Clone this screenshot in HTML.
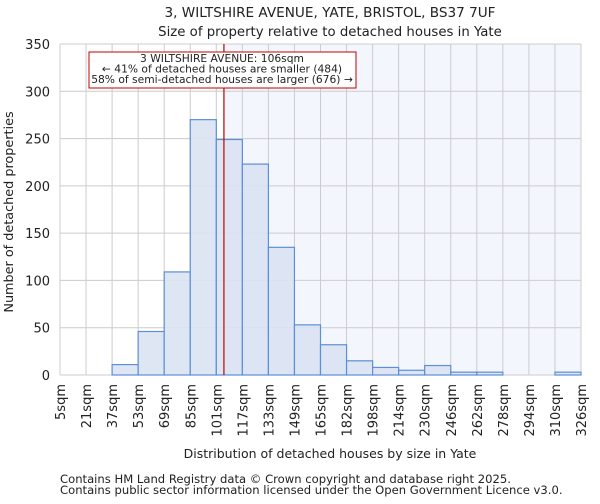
<!DOCTYPE html>
<html><head><meta charset="utf-8"><style>
body{margin:0;background:#fff;font-family:"DejaVu Sans","Liberation Sans",sans-serif;}
svg text{font-family:"DejaVu Sans","Liberation Sans",sans-serif;fill:#222;}
</style></head><body>
<svg id="c" width="600" height="500" xmlns="http://www.w3.org/2000/svg">
<text x="330" y="17" font-size="13.6" text-anchor="middle">3, WILTSHIRE AVENUE, YATE, BRISTOL, BS37 7UF</text>
<text x="330" y="36" font-size="13.3" text-anchor="middle">Size of property relative to detached houses in Yate</text>
<g id="plot"></g>
<text x="330" y="458" font-size="12.5" text-anchor="middle">Distribution of detached houses by size in Yate</text>
<text transform="translate(13,212) rotate(-90)" font-size="12.8" text-anchor="middle">Number of detached properties</text>
<text x="60" y="483" font-size="11.6">Contains HM Land Registry data © Crown copyright and database right 2025.</text>
<text x="60" y="494" font-size="11.6">Contains public sector information licensed under the Open Government Licence v3.0.</text>
</svg>
<script>
const categories=["5sqm","21sqm","37sqm","53sqm","69sqm","85sqm","101sqm","117sqm","133sqm","149sqm","165sqm","182sqm","198sqm","214sqm","230sqm","246sqm","262sqm","278sqm","294sqm","310sqm","326sqm"];
const counts=[0,0,11,46,109,270,249,223,135,53,32,15,8,5,10,3,3,0,0,3];
const yTicks=[0,50,100,150,200,250,300,350];
const subjectSize=106;
const binStart=5, binWidth=16.05;
const NS="http://www.w3.org/2000/svg";
const L=60,R=581,T=44,B=375,yMax=350;
const xs=i=>L+(R-L)*i/counts.length;
const xv=v=>L+(R-L)*(v-binStart)/(binWidth*counts.length);
const ys=v=>B-(B-T)*v/yMax;
const g=document.getElementById('plot');
function mk(t,a){const e=document.createElementNS(NS,t);for(const k in a)e.setAttribute(k,a[k]);g.appendChild(e);return e;}
const sx=xv(subjectSize);
let e=mk('rect',{x:sx,y:T,width:R-sx,height:B-T,fill:'#f3f6fd'});


yTicks.forEach(v=>{
 let l=mk('line',{x1:L,x2:R,y1:ys(v),y2:ys(v),stroke:'#ccc','stroke-width':1});
 
 
 let t=mk('text',{x:L-10,y:ys(v)+5,'font-size':13,'text-anchor':'end'});t.textContent=v;
 
 
});
categories.forEach((c,i)=>{
 const x=xs(i);
 let l=mk('line',{x1:x,x2:x,y1:T,y2:B,stroke:'#ccc','stroke-width':1});
 
 
 let t=mk('text',{transform:`translate(${x+5},384) rotate(-90)`,'font-size':13,'text-anchor':'end'});t.textContent=c;
 
 
});
counts.forEach((v,i)=>{
 if(v<=0)return;
 let r=mk('rect',{x:xs(i),y:ys(v),width:xs(i+1)-xs(i),height:B-ys(v),fill:'#dae3f3',stroke:'#5b8fd6','stroke-width':1.2,'fill-opacity':0.9});
 
 
});
let rl=mk('line',{x1:sx,x2:sx,y1:T,y2:B,stroke:'#c00000','stroke-width':1.2});


let box=mk('rect',{x:89,y:52,width:267,height:36,fill:'#fff',stroke:'#c00000','stroke-width':1});


["3 WILTSHIRE AVENUE: 106sqm","← 41% of detached houses are smaller (484)","58% of semi-detached houses are larger (676) →"].forEach((s,i)=>{
 let t=mk('text',{x:222,y:62+i*10.5,'font-size':10.7,'text-anchor':'middle'});t.textContent=s;
 
 
});
</script>
</body></html>
